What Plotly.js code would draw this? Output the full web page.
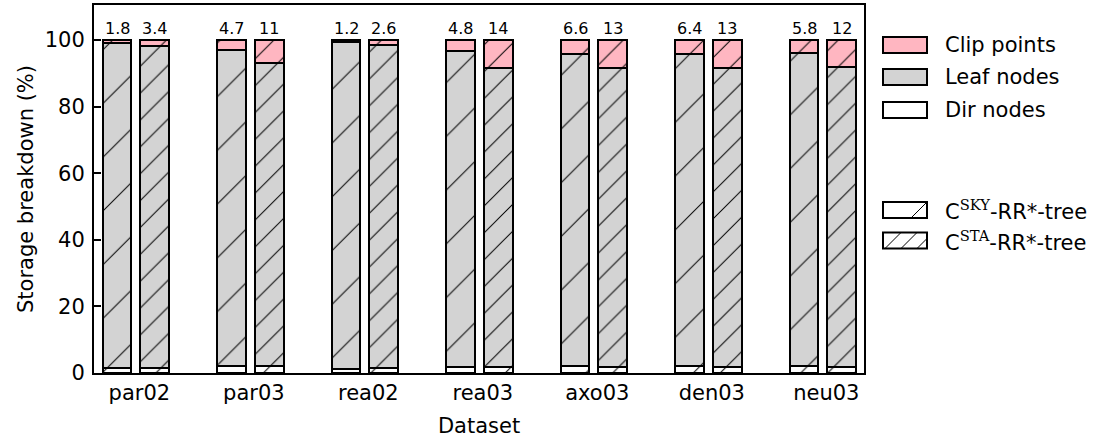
<!DOCTYPE html>
<html>
<head>
<meta charset="utf-8">
<script src="https://cdn.plot.ly/plotly-3.0.1.min.js"></script>
<style>html,body{margin:0;padding:0;background:#fff;}#chart{width:1102px;height:439px;}</style>
</head>
<body>
<div id="chart"></div>
<script>
// ---- data ----
const categories = ['par02', 'par03', 'rea02', 'rea03', 'axo03', 'den03', 'neu03'];
const skyDir  = [1.4, 2.2, 1.3, 1.9, 2.0, 2.0, 2.0];
const skyLeaf = [97.6, 94.8, 98.0, 94.9, 93.8, 93.9, 94.2];
const skyClip = [1.0, 3.0, 0.7, 3.2, 4.2, 4.1, 3.8];
const staDir  = [1.5, 2.1, 1.4, 1.9, 1.9, 1.9, 1.9];
const staLeaf = [96.8, 90.9, 97.1, 89.6, 89.8, 89.8, 90.1];
const staClip = [1.7, 7.0, 1.5, 8.5, 8.3, 8.3, 8.0];
const skyLabels = ['1.8', '4.7', '1.2', '4.8', '6.6', '6.4', '5.8'];
const staLabels = ['3.4', '11', '2.6', '14', '13', '13', '12'];
const yTicks = [0, 20, 40, 60, 80, 100];

// ---- layout constants ----
const FONT = 'DejaVu Sans';
const OFF = 0.165, BW = 0.25;
const L = 94, T = 5, W = 770, H = 368;
const PINK = '#ffb6c1', GRAY = '#d3d3d3', WHITE = '#ffffff';

const idx = categories.map((_, i) => i);
const xSky = idx.map(i => i - OFF);
const xSta = idx.map(i => i + OFF);

function bar(x, y, color, hatchSize) {
  return {
    type: 'bar', x: x, y: y, width: BW, showlegend: false, hoverinfo: 'skip',
    marker: {
      color: color,
      line: {color: 'black', width: 2},
      pattern: {shape: '/', size: hatchSize, solidity: 1.0 / hatchSize, fgcolor: 'black', bgcolor: color, fillmode: 'replace'}
    }
  };
}

const data = [
  bar(xSky, skyDir, WHITE, 38), bar(xSky, skyLeaf, GRAY, 38), bar(xSky, skyClip, PINK, 38),
  bar(xSta, staDir, WHITE, 19), bar(xSta, staLeaf, GRAY, 19), bar(xSta, staClip, PINK, 19)
];

const annotations = [];
idx.forEach(i => {
  annotations.push({x: xSky[i], y: 100, xref: 'x', yref: 'y', text: skyLabels[i], showarrow: false,
    yanchor: 'bottom', yshift: 0, font: {family: FONT, size: 16, color: 'black'}});
  annotations.push({x: xSta[i], y: 100, xref: 'x', yref: 'y', text: staLabels[i], showarrow: false,
    yanchor: 'bottom', yshift: 0, font: {family: FONT, size: 16, color: 'black'}});
});

// ---- manual legend (pixel positions converted to paper coords) ----
const px = p => (p - L) / W;
const py = p => (T + H - p) / H;
const shapes = [];
const sx0 = 883, sx1 = 927;
const legendItems = [
  {label: 'Clip points', color: PINK, cy: 45, hatch: 0},
  {label: 'Leaf nodes', color: GRAY, cy: 77, hatch: 0},
  {label: 'Dir nodes', color: WHITE, cy: 110, hatch: 0},
  {label: "C<sup><span style=\"font-family:'DejaVu Serif'\">SKY</span></sup>-RR*-tree", color: WHITE, cy: 210, hatch: 1},
  {label: "C<sup><span style=\"font-family:'DejaVu Serif'\">STA</span></sup>-RR*-tree", color: WHITE, cy: 240.5, hatch: 2}
];
legendItems.forEach(it => {
  const y0 = it.cy + 8, y1 = it.cy - 8;
  shapes.push({type: 'rect', xref: 'paper', yref: 'paper', x0: px(sx0), x1: px(sx1), y0: py(y0), y1: py(y1),
    fillcolor: it.color, line: {color: 'black', width: 2}});
  const starts = it.hatch === 1 ? [911] : it.hatch === 2 ? [885, 901, 917] : [];
  starts.forEach(s => {
    const bx0 = s, by0 = y0;
    let bx1 = s + 16, by1 = y1;
    if (bx1 > sx1) { by1 = y0 - (sx1 - s); bx1 = sx1; }
    shapes.push({type: 'line', xref: 'paper', yref: 'paper', x0: px(bx0), y0: py(by0), x1: px(bx1), y1: py(by1),
      line: {color: 'black', width: 1}});
  });
  annotations.push({xref: 'paper', yref: 'paper', x: px(943), y: py(it.cy), xanchor: 'left', yanchor: 'middle',
    text: it.label, showarrow: false, font: {family: FONT, size: 21, color: 'black'}});
});

const layout = {
  width: 1102, height: 439,
  margin: {l: L, r: 1102 - L - W, t: T, b: 439 - T - H, pad: 0},
  paper_bgcolor: 'white', plot_bgcolor: 'white',
  barmode: 'stack', bargap: 0,
  font: {family: FONT, size: 21, color: 'black'},
  xaxis: {
    range: [-0.366, 6.359], tickmode: 'array', tickvals: idx.map(i => i + 0.03), ticktext: categories,
    showgrid: false, zeroline: false, showline: true, mirror: true, linecolor: 'black', linewidth: 2,
    ticks: '', ticklabelstandoff: 0, tickfont: {family: FONT, size: 21},
    title: {text: 'Dataset', font: {family: FONT, size: 21}, standoff: 14}
  },
  yaxis: {
    range: [0, 110.5], tickmode: 'array', tickvals: yTicks,
    showgrid: false, zeroline: false, showline: true, mirror: true, linecolor: 'black', linewidth: 2,
    ticks: 'inside', ticklen: 7, tickwidth: 2, tickcolor: 'black', ticklabelstandoff: 3,
    tickfont: {family: FONT, size: 21},
    title: {text: 'Storage breakdown (%)', font: {family: FONT, size: 21}, standoff: 5}
  },
  shapes: shapes,
  annotations: annotations
};

Plotly.newPlot('chart', data, layout, {displayModeBar: false, staticPlot: true});
</script>
</body>
</html>
